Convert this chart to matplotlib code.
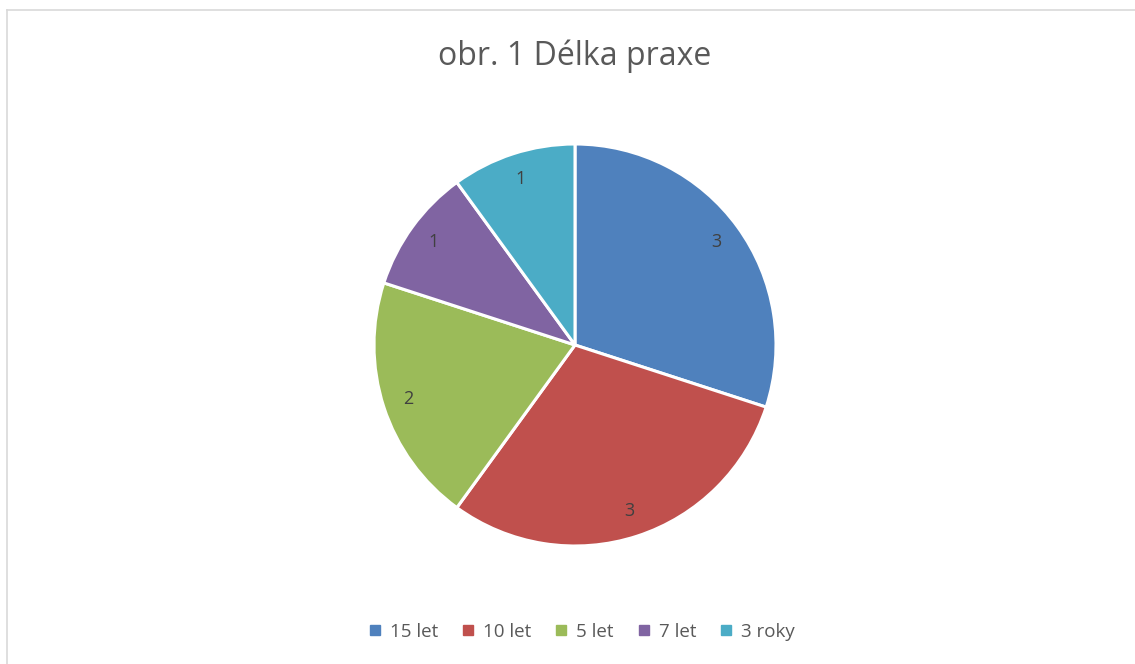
import matplotlib; matplotlib.use('Agg')
import matplotlib.pyplot as plt
from matplotlib.lines import Line2D

labels = ['15 let', '10 let', '5 let', '7 let', '3 roky']
values = [3, 3, 2, 1, 1]
colors = ['#4F81BD', '#C0504D', '#9BBB59', '#8064A2', '#4BACC6']

plt.rcParams['font.family'] = ['Open Sans', 'DejaVu Sans']

W, H = 1135, 664
fig = plt.figure(figsize=(W / 100, H / 100), dpi=100)

# pie centre ~ (575, 345) px, radius ~ 201 px
cx, cy, r = 575, 345, 201
ax = fig.add_axes([(cx - r) / W, (H - cy - r) / H, 2 * r / W, 2 * r / H])
wedges, texts = ax.pie(values, colors=colors, startangle=90, counterclock=False,
                       labels=[str(v) for v in values], labeldistance=0.87,
                       wedgeprops=dict(edgecolor='white', linewidth=2.2),
                       textprops=dict(color='#404040', fontsize=13))
for t in texts:
    t.set_ha('center'); t.set_va('center')
ax.set_xlim(-1, 1); ax.set_ylim(-1, 1)
ax.set_aspect('equal')
ax.axis('off')

fig.text(cx / W, 1 - 56 / H, 'obr. 1 Délka praxe', ha='center', va='center',
         fontsize=23, color='#595959')

handles = [Line2D([], [], marker='s', linestyle='', markersize=7,
                  markerfacecolor=c, markeredgecolor=c) for c in colors]
fig.legend(handles, labels, loc='center', bbox_to_anchor=(581 / W, 1 - 632 / H),
           ncol=5, frameon=False, fontsize=13.5, labelcolor='#595959',
           handlelength=0.8, handletextpad=0.4, columnspacing=1.2)

# light border (only top and left edges visible in the reference)
fig.add_artist(Line2D([7 / W, 1], [1 - 10 / H, 1 - 10 / H], color='#D9D9D9', lw=1.2))
fig.add_artist(Line2D([7 / W, 7 / W], [0, 1 - 10 / H], color='#D9D9D9', lw=1.2))

fig.savefig('out.png', dpi=100)
